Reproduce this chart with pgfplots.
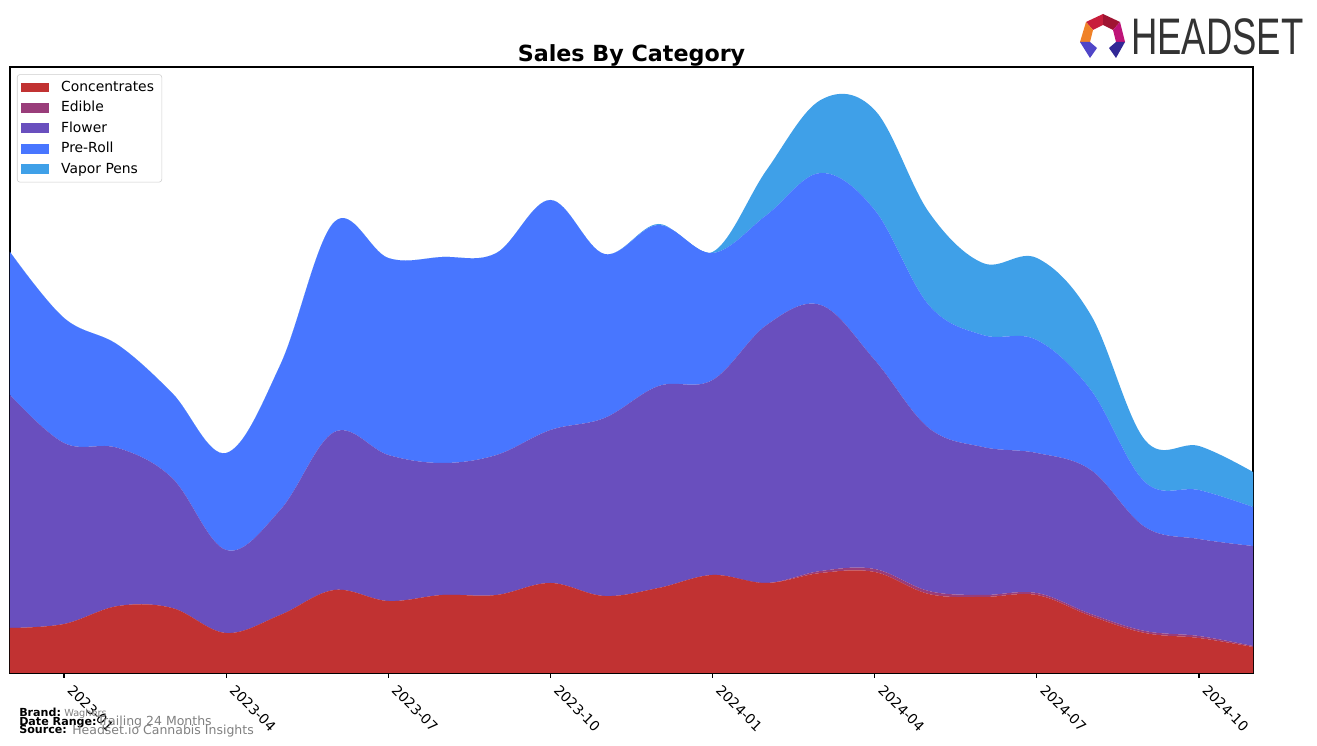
\documentclass[border=0pt]{standalone}
\usepackage{fontspec}
\setmainfont{DejaVu Sans}
\newfontfamily\logofont{Liberation Sans}
\usepackage{pgfplots}
\pgfplotsset{compat=1.18}
\usepackage{pgfplotstable}

\definecolor{conc}{RGB}{193,50,50}
\definecolor{edib}{RGB}{153,61,122}
\definecolor{flow}{RGB}{105,79,190}
\definecolor{prer}{RGB}{72,118,255}
\definecolor{vape}{RGB}{63,160,232}
\definecolor{legframe}{RGB}{204,204,204}
\definecolor{lgA}{RGB}{200,30,60}
\definecolor{lgB}{RGB}{160,20,50}
\definecolor{lgC}{RGB}{190,20,120}
\definecolor{lgD}{RGB}{240,130,40}
\definecolor{lgE}{RGB}{80,70,200}
\definecolor{lgF}{RGB}{50,40,150}

\pgfplotstableread{
m conc edib flow prer vape
0  45 0 233 143 0
1  49 0 181 125 0
2  67 0 158 103 0
3  65 0 130 85  0
4  40 0 83  97  0
5  58 0 105 145 0
6  83 0 158 210 0
7  72 0 146 197 0
8  78 0 132 206 0
9  78 0 140 202 0
10 90 0 153 230 0
11 77 0 178 164 0
12 85 0 202 161 1
13 98 0 195 127 1
14 90 0 258 110 45
15 100 2 266 132 73
16 101 3 209 150 100
17 79 3 163 123 93
18 76 2 148 112 72
19 78 2 140 113 82
20 57 2 144 80 75
21 40 2 104 45 42
22 35 2 97 49 44
23 26 1 100 39 35
}\data

\begin{document}
\begin{tikzpicture}
\begin{axis}[
  at={(7.2pt,52.56pt)}, anchor=south west,
  scale only axis, width=894.96pt, height=436.32pt,
  xmin=0, xmax=23, ymin=0, ymax=606,
  stack plots=y,
  axis line style={line width=0.8pt},
  xtick={1,4,7,10,13,16,19,22},
  xticklabels={2023-01,2023-04,2023-07,2023-10,2024-01,2024-04,2024-07,2024-10},
  ytick=\empty,
  xtick pos=lower,
  tick align=outside,
  major tick length=3.5pt,
  every tick/.style={black, line width=0.8pt},
  x tick label style={rotate=-45, anchor=north west, font=\fontsize{10}{12}\selectfont, inner sep=1pt, xshift=7pt, yshift=3.1pt},
  title={\textbf{Sales By Category}},
  title style={font=\fontsize{16}{19}\selectfont, yshift=-9pt},
  legend cell align=left,
  legend style={at={(0.0056,0.988)}, anchor=north west, draw=legframe, rounded corners=2pt,
    font=\fontsize{10}{12}\selectfont, row sep=0pt, inner xsep=3pt, inner ysep=2pt,
    nodes={inner sep=2.6pt, text height=7.5pt, text depth=2pt}},
  legend image code/.code={\fill[#1, sharp corners] (0pt,-3.5pt) rectangle (20pt,3.5pt); \path (26pt,0pt);},
]
\addplot[fill=conc, draw=none, smooth, tension=0.6] table[x=m,y=conc]{\data} \closedcycle;
\addplot[fill=edib, draw=none, smooth, tension=0.6] table[x=m,y=edib]{\data} \closedcycle;
\addplot[fill=flow, draw=none, smooth, tension=0.6] table[x=m,y=flow]{\data} \closedcycle;
\addplot[fill=prer, draw=none, smooth, tension=0.6] table[x=m,y=prer]{\data} \closedcycle;
\addplot[fill=vape, draw=none, smooth, tension=0.6] table[x=m,y=vape]{\data} \closedcycle;
\legend{Concentrates,Edible,Flower,Pre-Roll,Vapor Pens}
\end{axis}
\begin{scope}[x=0.72pt, y=-0.72pt, shift={(0pt,537.12pt)}]
  % logo
  \fill[lgA] (1086,22) -- (1103,14) -- (1103,25) -- (1093,30) -- cycle;
  \fill[lgB] (1103,14) -- (1120,22) -- (1113,30) -- (1103,25) -- cycle;
  \fill[lgC] (1120,22) -- (1125,42) -- (1116,42) -- (1113,30) -- cycle;
  \fill[lgD] (1086,22) -- (1093,30) -- (1090,42) -- (1080,42) -- cycle;
  \fill[lgE] (1080,42) -- (1090,42) -- (1097,48) -- (1090,58) -- cycle;
  \fill[lgF] (1125,42) -- (1116,42) -- (1109,48) -- (1116,58) -- cycle;
  \node[anchor=west, inner sep=0pt, text=black!80, xscale=0.71] at (1131,37) {\logofont\fontsize{37}{40}\selectfont HEADSET};
  % footer
  \node[anchor=base west, inner sep=0pt] at (19,717) {\fontsize{8}{9}\selectfont\bfseries Brand:};
  \node[anchor=base west, inner sep=0pt, text=gray] at (64,717) {\fontsize{7}{8}\selectfont Waghers};
  \node[anchor=base west, inner sep=0pt] at (19,725.5) {\fontsize{8}{9}\selectfont\bfseries Date Range:};
  \node[anchor=base west, inner sep=0pt, text=gray] at (97,726) {\fontsize{9}{10}\selectfont Trailing 24 Months};
  \node[anchor=base west, inner sep=0pt] at (19,734) {\fontsize{8}{9}\selectfont\bfseries Source:};
  \node[anchor=base west, inner sep=0pt, text=gray] at (72,735) {\fontsize{9}{10}\selectfont Headset.io Cannabis Insights};
\end{scope}
\pgfresetboundingbox
\path (0pt,0pt) rectangle (948.24pt,537.12pt);
\end{tikzpicture}
\end{document}
